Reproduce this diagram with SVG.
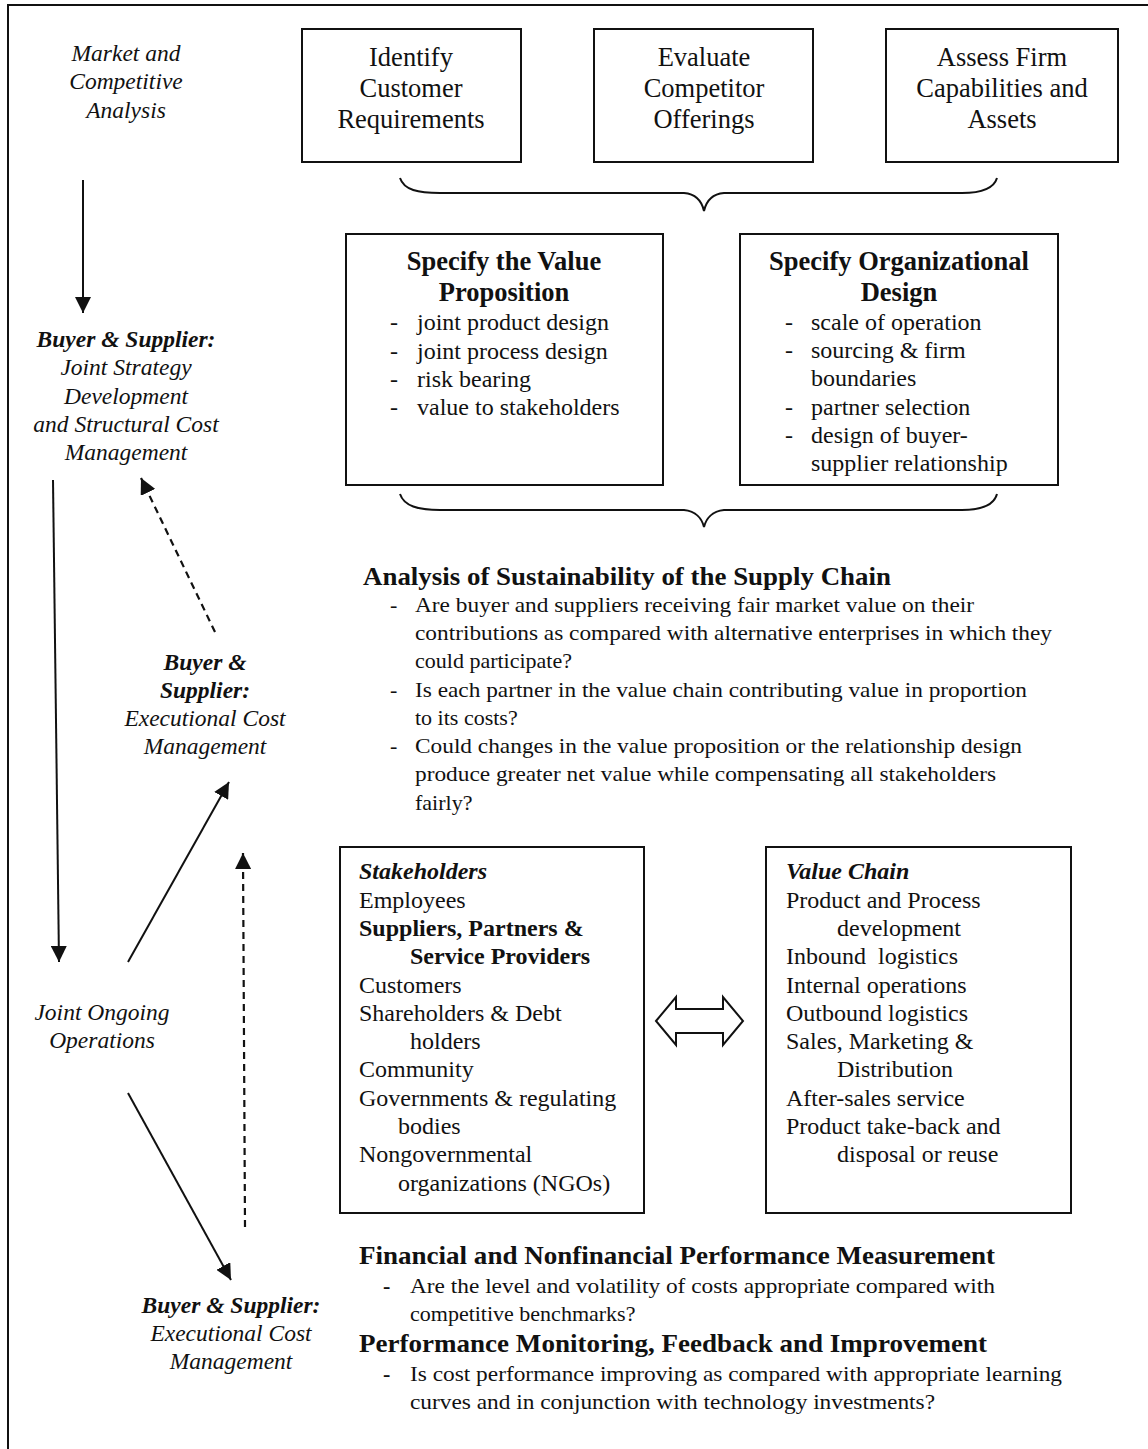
<svg xmlns="http://www.w3.org/2000/svg" width="1148" height="1449" viewBox="0 0 1148 1449">
<style>
  text { font-family: "Liberation Serif", "Times New Roman", serif; fill: #111; }
  .box { fill: #fff; stroke: #111; stroke-width: 2; }
  .frame { fill: none; stroke: #111; stroke-width: 2; }
  .t26 { font-size: 26.5px; }
  .hb { font-size: 26.5px; font-weight: bold; }
  .b24 { font-size: 24px; }
  .s22 { font-size: 22px; }
  .lc { font-size: 23.5px; font-style: italic; }
  .lcb { font-size: 23.5px; font-style: italic; font-weight: bold; }
  .bi { font-style: italic; font-weight: bold; }
  .bold { font-weight: bold; }
  .hd { font-size: 25px; font-weight: bold; }
  .mid { text-anchor: middle; }
  .solid { fill: none; stroke: #111; stroke-width: 2; marker-end: url(#ah); }
  .dash { fill: none; stroke: #111; stroke-width: 2.2; stroke-dasharray: 7 5; marker-end: url(#ah); }
  .brace { fill: none; stroke: #111; stroke-width: 2; }
</style>
<defs>
  <marker id="ah" markerUnits="userSpaceOnUse" markerWidth="18" markerHeight="16" refX="16" refY="8" orient="auto">
    <path d="M0,0 L16,8 L0,16 z" fill="#111"/>
  </marker>
</defs>
<rect width="1148" height="1449" fill="#fff"/>
<path class="frame" d="M8,1449 L8,5 L1148,5"/>

<g id="market-analysis">
  <text class="lc mid" x="126" y="61">Market and</text>
  <text class="lc mid" x="126" y="89">Competitive</text>
  <text class="lc mid" x="126" y="118">Analysis</text>
</g>

<g id="identify-customer">
  <rect class="box" x="302" y="29" width="219" height="133"/>
  <text class="t26 mid" x="411" y="66">Identify</text>
  <text class="t26 mid" x="411" y="97">Customer</text>
  <text class="t26 mid" x="411" y="128">Requirements</text>
</g>
<g id="evaluate-competitor">
  <rect class="box" x="594" y="29" width="219" height="133"/>
  <text class="t26 mid" x="704" y="66">Evaluate</text>
  <text class="t26 mid" x="704" y="97">Competitor</text>
  <text class="t26 mid" x="704" y="128">Offerings</text>
</g>
<g id="assess-firm">
  <rect class="box" x="886" y="29" width="232" height="133"/>
  <text class="t26 mid" x="1002" y="66">Assess Firm</text>
  <text class="t26 mid" x="1002" y="97">Capabilities and</text>
  <text class="t26 mid" x="1002" y="128">Assets</text>
</g>

<g id="joint-strategy">
  <text class="lcb mid" x="126" y="347">Buyer &amp; Supplier:</text>
  <text class="lc mid" x="126" y="375">Joint Strategy</text>
  <text class="lc mid" x="126" y="404">Development</text>
  <text class="lc mid" x="126" y="432">and Structural Cost</text>
  <text class="lc mid" x="126" y="460">Management</text>
</g>

<g id="value-proposition">
  <rect class="box" x="346" y="234" width="317" height="251"/>
  <text class="hb mid" x="504" y="270">Specify the Value</text>
  <text class="hb mid" x="504" y="301">Proposition</text>
  <text class="b24" x="390" y="330">-</text><text class="b24" x="417" y="330">joint product design</text>
  <text class="b24" x="390" y="359">-</text><text class="b24" x="417" y="359">joint process design</text>
  <text class="b24" x="390" y="387">-</text><text class="b24" x="417" y="387">risk bearing</text>
  <text class="b24" x="390" y="415">-</text><text class="b24" x="417" y="415">value to stakeholders</text>
</g>

<g id="organizational-design">
  <rect class="box" x="740" y="234" width="318" height="251"/>
  <text class="hb mid" x="899" y="270">Specify Organizational</text>
  <text class="hb mid" x="899" y="301">Design</text>
  <text class="b24" x="785" y="330">-</text><text class="b24" x="811" y="330">scale of operation</text>
  <text class="b24" x="785" y="358">-</text><text class="b24" x="811" y="358">sourcing &amp; firm</text>
  <text class="b24" x="811" y="386">boundaries</text>
  <text class="b24" x="785" y="415">-</text><text class="b24" x="811" y="415">partner selection</text>
  <text class="b24" x="785" y="443">-</text><text class="b24" x="811" y="443">design of buyer-</text>
  <text class="b24" x="811" y="471">supplier relationship</text>
</g>

<g id="sustainability-analysis">
  <text class="hd" x="363" y="585" textLength="528" lengthAdjust="spacingAndGlyphs">Analysis of Sustainability of the Supply Chain</text>
  <text class="s22" x="390" y="612">-</text>
  <text class="s22" x="415" y="612" textLength="559" lengthAdjust="spacingAndGlyphs">Are buyer and suppliers receiving fair market value on their</text>
  <text class="s22" x="415" y="640" textLength="637" lengthAdjust="spacingAndGlyphs">contributions as compared with alternative enterprises in which they</text>
  <text class="s22" x="415" y="668">could participate?</text>
  <text class="s22" x="390" y="697">-</text>
  <text class="s22" x="415" y="697" textLength="612" lengthAdjust="spacingAndGlyphs">Is each partner in the value chain contributing value in proportion</text>
  <text class="s22" x="415" y="725">to its costs?</text>
  <text class="s22" x="390" y="753">-</text>
  <text class="s22" x="415" y="753" textLength="607" lengthAdjust="spacingAndGlyphs">Could changes in the value proposition or the relationship design</text>
  <text class="s22" x="415" y="781" textLength="581" lengthAdjust="spacingAndGlyphs">produce greater net value while compensating all stakeholders</text>
  <text class="s22" x="415" y="810">fairly?</text>
</g>

<g id="executional-cost-1">
  <text class="lcb mid" x="205" y="670">Buyer &amp;</text>
  <text class="lcb mid" x="205" y="698">Supplier:</text>
  <text class="lc mid" x="205" y="726">Executional Cost</text>
  <text class="lc mid" x="205" y="754">Management</text>
</g>

<g id="joint-operations">
  <text class="lc mid" x="102" y="1020">Joint Ongoing</text>
  <text class="lc mid" x="102" y="1048">Operations</text>
</g>

<g id="stakeholders">
  <rect class="box" x="340" y="847" width="304" height="366"/>
  <text class="b24 bi" x="359" y="879">Stakeholders</text>
  <text class="b24" x="359" y="908">Employees</text>
  <text class="b24 bold" x="359" y="936">Suppliers, Partners &amp;</text>
  <text class="b24 bold" x="410" y="964">Service Providers</text>
  <text class="b24" x="359" y="993">Customers</text>
  <text class="b24" x="359" y="1021">Shareholders &amp; Debt</text>
  <text class="b24" x="410" y="1049">holders</text>
  <text class="b24" x="359" y="1077">Community</text>
  <text class="b24" x="359" y="1106">Governments &amp; regulating</text>
  <text class="b24" x="398" y="1134">bodies</text>
  <text class="b24" x="359" y="1162">Nongovernmental</text>
  <text class="b24" x="398" y="1191">organizations (NGOs)</text>
</g>

<g id="value-chain">
  <rect class="box" x="766" y="847" width="305" height="366"/>
  <text class="b24 bi" x="786" y="879">Value Chain</text>
  <text class="b24" x="786" y="908">Product and Process</text>
  <text class="b24" x="837" y="936">development</text>
  <text class="b24" x="786" y="964" xml:space="preserve">Inbound  logistics</text>
  <text class="b24" x="786" y="993">Internal operations</text>
  <text class="b24" x="786" y="1021">Outbound logistics</text>
  <text class="b24" x="786" y="1049">Sales, Marketing &amp;</text>
  <text class="b24" x="837" y="1077">Distribution</text>
  <text class="b24" x="786" y="1106">After-sales service</text>
  <text class="b24" x="786" y="1134">Product take-back and</text>
  <text class="b24" x="837" y="1162">disposal or reuse</text>
</g>

<g id="performance-measurement">
  <text class="hd" x="359" y="1264" textLength="636" lengthAdjust="spacingAndGlyphs">Financial and Nonfinancial Performance Measurement</text>
  <text class="s22 bold" x="383" y="1293">-</text>
  <text class="s22" x="410" y="1293" textLength="585" lengthAdjust="spacingAndGlyphs">Are the level and volatility of costs appropriate compared with</text>
  <text class="s22" x="410" y="1321">competitive benchmarks?</text>
  <text class="hd" x="359" y="1352" textLength="628" lengthAdjust="spacingAndGlyphs">Performance Monitoring, Feedback and Improvement</text>
  <text class="s22 bold" x="383" y="1381">-</text>
  <text class="s22" x="410" y="1381" textLength="652" lengthAdjust="spacingAndGlyphs">Is cost performance improving as compared with appropriate learning</text>
  <text class="s22" x="410" y="1409" textLength="525" lengthAdjust="spacingAndGlyphs">curves and in conjunction with technology investments?</text>
</g>

<g id="executional-cost-2">
  <text class="lcb mid" x="231" y="1313">Buyer &amp; Supplier:</text>
  <text class="lc mid" x="231" y="1341">Executional Cost</text>
  <text class="lc mid" x="231" y="1369">Management</text>
</g>

<g id="connectors">
  <path class="brace" d="M400,178 C404,190 418,193 440,193 L684,193 C696,194 702,202 704,211 C706,202 712,194 724,193 L962,193 C982,193 994,188 997,178"/>
  <path class="brace" d="M400,494 C404,506 418,510 440,510 L684,510 C696,511 702,519 704,527 C706,519 712,511 724,510 L962,510 C982,510 994,505 997,494"/>
  <line class="solid" x1="83" y1="180" x2="83" y2="313"/>
  <line class="solid" x1="53" y1="480" x2="59" y2="962"/>
  <line class="dash" x1="215" y1="632" x2="141" y2="478"/>
  <line class="solid" x1="128" y1="962" x2="229" y2="782"/>
  <line class="dash" x1="245" y1="1227" x2="243" y2="853"/>
  <line class="solid" x1="128" y1="1093" x2="231" y2="1280"/>
  <path d="M656,1021 L676,997 L676,1009 L723,1009 L723,997 L743,1021 L723,1045 L723,1033 L676,1033 L676,1045 Z" fill="#fff" stroke="#111" stroke-width="2" stroke-linejoin="miter"/>
</g>
</svg>
